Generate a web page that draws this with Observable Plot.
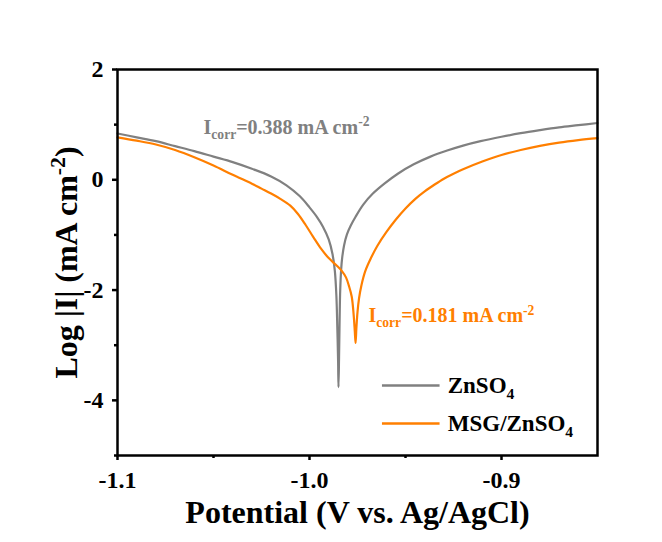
<!DOCTYPE html>
<html>
<head>
<meta charset="utf-8">
<script src="https://cdn.jsdelivr.net/npm/d3@7"></script>
<script src="https://cdn.jsdelivr.net/npm/@observablehq/plot@0.6"></script>
<style>
  body { margin: 0; background: #ffffff; }
  #chart svg { display: block; }
  #chart svg text { font-family: 'Liberation Serif', 'Times New Roman', serif !important; font-weight: bold; font-variant: normal !important; }
</style>
</head>
<body>
<div id="chart"></div>
<script>
// ---------- data ----------
const seriesNames = ["ZnSO4", "MSG/ZnSO4"];
const seriesColors = ["#808080", "#FF7F00"];

const potentialZn = [-1.100, -1.090, -1.080, -1.070, -1.060, -1.050, -1.040, -1.030, -1.020, -1.012,
  -1.005, -1.000, -0.996, -0.993, -0.990, -0.988, -0.9868, -0.9860, -0.9855, -0.9851,
  -0.9849,
  -0.9846, -0.9843, -0.9840, -0.9835, -0.9830, -0.9820, -0.9805, -0.9785, -0.9760, -0.9720,
  -0.9670, -0.9610, -0.9540, -0.9457, -0.9370, -0.9283, -0.9200, -0.9109, -0.9000, -0.8900,
  -0.8800, -0.8700, -0.8600, -0.8500];
const logIZn = [0.84, 0.77, 0.70, 0.61, 0.52, 0.42, 0.32, 0.20, 0.06, -0.10,
  -0.30, -0.50, -0.68, -0.85, -1.08, -1.35, -1.65, -2.10, -2.70, -3.30,
  -3.76,
  -3.20, -2.50, -2.00, -1.62, -1.42, -1.19, -0.99, -0.83, -0.67, -0.45,
  -0.25, -0.07, 0.11, 0.28, 0.42, 0.53, 0.62, 0.70, 0.78, 0.845,
  0.90, 0.95, 0.99, 1.03];

const potentialMSG = [-1.100, -1.090, -1.080, -1.070, -1.060, -1.050, -1.040, -1.030, -1.025, -1.020,
  -1.015, -1.010, -1.006, -1.002, -0.998, -0.994, -0.990, -0.986, -0.983, -0.981,
  -0.9795, -0.978, -0.9770, -0.9764, -0.9760,
  -0.9756, -0.9750, -0.9742, -0.9730, -0.9710, -0.9680, -0.9647, -0.9600, -0.9550, -0.9500,
  -0.9450, -0.9400, -0.9350, -0.9300, -0.9250, -0.9200, -0.9100, -0.9000, -0.8900, -0.8800,
  -0.8700, -0.8600, -0.8500];
const logIMSG = [0.77, 0.71, 0.64, 0.54, 0.41, 0.26, 0.09, -0.07, -0.16, -0.25,
  -0.35, -0.47, -0.62, -0.82, -1.04, -1.25, -1.42, -1.55, -1.66, -1.77,
  -1.92, -2.12, -2.45, -2.75, -2.96,
  -2.70, -2.40, -2.15, -1.92, -1.66, -1.42, -1.20, -0.95, -0.72, -0.52,
  -0.35, -0.21, -0.09, 0.02, 0.11, 0.19, 0.33, 0.45, 0.54, 0.615,
  0.675, 0.72, 0.755];

const xMajorTicks = [-1.1, -1.0, -0.9];
const xMinorTicks = [-1.05, -0.95];
const yMajorTicks = [2, 0, -2, -4];
const yMinorTicks = [1, -1, -3, -5];

const xTitle = "Potential (V vs. Ag/AgCl)";
const yTitle = "Log |I| (mA cm-2)";

// annotations (data coordinates)
const annotLabels = ["Icorr=0.388 mA cm-2", "Icorr=0.181 mA cm-2"];
const annotX = [-1.0552, -0.9693];
const annotY = [0.955, -2.47];

// legend placement (data coordinates)
const legendX1 = -0.962, legendX2 = -0.932, legendTextX = -0.928;
const legendY = [-3.73, -4.42];

// ---------- build tables ----------
const dataZn = potentialZn.map((E, i) => ({E, logI: logIZn[i]}));
const dataMSG = potentialMSG.map((E, i) => ({E, logI: logIMSG[i]}));
const annots = annotLabels.map((t, i) => ({t, x: annotX[i], y: annotY[i], c: seriesColors[i]}));
const legend = seriesNames.map((n, i) => ({n, y: legendY[i], c: seriesColors[i]}));

const FONT = "'Liberation Serif', 'Times New Roman', serif";

const plot = Plot.plot({
  width: 662,
  height: 542,
  marginLeft: 117,
  marginRight: 65,
  marginTop: 69,
  marginBottom: 87,
  x: {domain: [-1.1, -0.85], label: null},
  y: {domain: [-5, 2], label: null},
  style: {fontFamily: FONT, fontWeight: "bold", background: "#ffffff", color: "black", fontSize: "24px"},
  marks: [
    Plot.line(dataZn, {x: "E", y: "logI", stroke: seriesColors[0], strokeWidth: 2.2, curve: "catmull-rom"}),
    Plot.line(dataMSG, {x: "E", y: "logI", stroke: seriesColors[1], strokeWidth: 2.2, curve: "catmull-rom"}),
    Plot.frame({stroke: "black", strokeWidth: 2.5}),
    Plot.axisX({ticks: xMajorTicks, tickSize: 5, tickPadding: 10, strokeWidth: 2.5, fontSize: 24, fontWeight: "bold",
      fontFamily: FONT, tickFormat: d => d.toFixed(1), label: null}),
    Plot.axisX({ticks: xMinorTicks, tickSize: 3, strokeWidth: 2.5, tickFormat: () => "", label: null}),
    Plot.axisY({ticks: yMajorTicks, tickSize: 5, tickPadding: 9, strokeWidth: 2.5, fontSize: 24, fontWeight: "bold",
      fontFamily: FONT, tickFormat: d => String(d), label: null}),
    Plot.axisY({ticks: yMinorTicks, tickSize: 3, strokeWidth: 2.5, tickFormat: () => "", label: null}),
    Plot.text([xTitle], {frameAnchor: "bottom", dy: 67, text: d => d, fontSize: 32, fontWeight: "bold", fontFamily: FONT, fill: "black"}),
    Plot.text([yTitle], {frameAnchor: "left", dx: -51, rotate: -90, textAnchor: "middle", text: d => d, fontSize: 32, fontWeight: "bold", fontFamily: FONT, fill: "black"}),
    Plot.text(annots, {x: "x", y: "y", text: "t", fill: "c", textAnchor: "start", fontSize: 20, fontWeight: "bold", fontFamily: FONT}),
    Plot.ruleY(legend, {y: "y", x1: () => legendX1, x2: () => legendX2, stroke: "c", strokeWidth: 2.5}),
    Plot.text(legend, {x: () => legendTextX, y: "y", text: "n", fill: "black", textAnchor: "start", fontSize: 23, fontWeight: "bold", fontFamily: FONT})
  ]
});

document.getElementById("chart").appendChild(plot);

// tick labels: force serif face and size inline
d3.select(plot).selectAll("g[aria-label='x-axis tick label'] text, g[aria-label='y-axis tick label'] text")
  .style("font-family", FONT).style("font-size", "24px").style("font-weight", "bold");

// ---------- rich text (sub/superscripts) ----------
const rich = {
  "Icorr=0.388 mA cm-2": {fs: 20, parts: [["I"], ["corr", "sub"], ["=0.388 mA cm"], ["-2", "sup"]]},
  "Icorr=0.181 mA cm-2": {fs: 20, parts: [["I"], ["corr", "sub"], ["=0.181 mA cm"], ["-2", "sup"]]},
  "ZnSO4": {fs: 23, parts: [["ZnSO"], ["4", "sub"]]},
  "MSG/ZnSO4": {fs: 23, parts: [["MSG/ZnSO"], ["4", "sub"]]},
  "Log |I| (mA cm-2)": {fs: 32, parts: [["Log |I| (mA cm"], ["-2", "sup"], [")"]]}
};
d3.select(plot).selectAll("text").each(function() {
  const node = this;
  const key = node.textContent;
  const spec = rich[key];
  if (!spec) return;
  const sel = d3.select(node);
  sel.text(null);
  let shift = 0;
  for (const [t, kind] of spec.parts) {
    const ts = sel.append("tspan").text(t);
    let target = 0;
    if (kind === "sub") { target = spec.fs * 0.25; ts.attr("font-size", spec.fs * 0.68); }
    else if (kind === "sup") { target = -spec.fs * 0.38; ts.attr("font-size", spec.fs * 0.68); }
    const dy = target - shift;
    if (dy !== 0) ts.attr("dy", dy);
    shift = target;
  }
});
</script>
</body>
</html>
